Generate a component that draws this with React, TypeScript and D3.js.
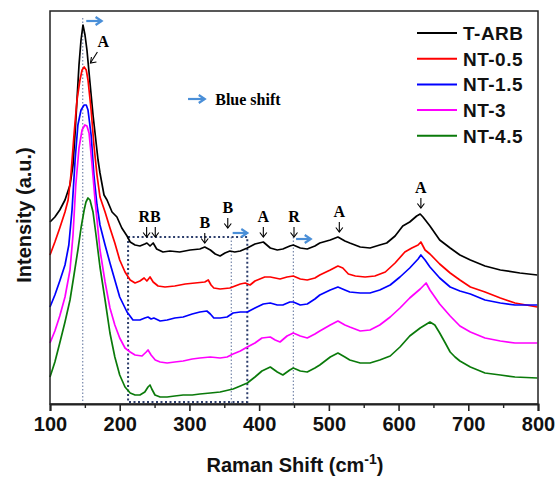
import React, { useEffect, useRef } from 'react';
import * as d3 from 'd3';

// Raman spectra, [shift (cm-1), intensity (a.u., offset)]
const tArb: [number, number][] = [
  [100, 182], [107, 187], [114, 194], [121.5, 204], [128.7, 219], [133, 239], [136, 271], [138.7, 304],
  [141.6, 339], [144.5, 364], [147.3, 379], [150.2, 369], [153, 354], [157.4, 321], [161.7, 289],
  [164.6, 271], [168.9, 244], [171.7, 231], [177.5, 209], [181.8, 204], [189, 192], [196, 187],
  [203, 176], [210.5, 168], [215, 162], [222, 159], [229, 158], [236, 160], [239, 161], [243.5, 158],
  [248, 161], [253, 155], [262, 152], [272, 153], [286, 152], [301, 154], [315, 155], [322, 157],
  [330, 154], [337, 150], [344, 148], [351, 151], [358, 153], [365, 152], [373, 153], [383, 156],
  [394, 160], [406, 162], [416, 156], [426, 154], [434, 155], [444, 158], [449, 159], [459, 156],
  [469, 155], [480, 158], [487, 161], [502, 164], [513, 167], [523, 163], [530, 161], [545, 157],
  [559, 156], [573, 159], [583, 161], [595, 168], [606, 178], [616, 182], [626, 188], [631, 190],
  [635, 187], [645, 178], [659, 164], [674, 156], [688, 149], [703, 144], [724, 138], [746, 134],
  [774, 131], [799, 129],
];

const nt05: [number, number][] = [
  [100, 149], [107, 162], [114, 176], [121.5, 192], [126, 204], [130, 229], [134.4, 269], [138.7, 304],
  [143, 324], [146, 334], [149, 337], [152, 334], [154.5, 324], [159, 294], [163, 259], [167.4, 229],
  [171.7, 207], [179, 192], [186, 176], [193, 161], [200, 144], [207.6, 132], [215, 124], [222, 121],
  [229, 123], [235, 126], [239, 123], [243.5, 127], [248, 122], [255, 118], [265, 117], [279, 118],
  [294, 120], [308, 121], [322, 122], [327, 124], [331, 119], [335, 116], [344, 115], [358, 116],
  [373, 120], [380, 121], [387, 119], [394, 123], [408, 127], [416, 127], [430, 125], [440, 127],
  [449, 128], [459, 125], [469, 124], [480, 126], [487, 129], [502, 134], [513, 138], [520, 136],
  [528, 130], [538, 128], [552, 127], [566, 128], [581, 132], [595, 141], [609, 152], [619, 156],
  [628, 159], [632, 162], [638, 154], [645, 150], [659, 140], [674, 131], [688, 124], [703, 117],
  [724, 112], [746, 106], [767, 101], [799, 97],
];

const nt15: [number, number][] = [
  [100, 97], [107, 109], [114, 123], [121.5, 139], [127, 159], [131.6, 194], [136, 244], [140, 279],
  [144.5, 294], [149, 299], [152, 299], [154.5, 294], [159, 269], [163, 229], [167.4, 199], [171.7, 179],
  [179, 159], [186, 141], [193, 124], [200, 107], [210.5, 92], [219, 84], [229, 84], [236, 86],
  [240.6, 87], [245, 85], [249, 86], [258, 83], [268, 84], [279, 86], [291, 87], [304, 90], [315, 92],
  [325, 93], [330, 90], [335, 86], [344, 86], [354, 87], [362.6, 91], [373, 92], [383, 92], [394, 96],
  [406, 100], [416, 101], [426, 99], [434, 99], [444, 102], [449, 102], [459, 99], [469, 100],
  [480, 105], [487, 109], [502, 114], [513, 117], [523, 114], [530, 112], [545, 111], [559, 111],
  [573, 114], [588, 119], [602, 127], [616, 136], [628, 145], [632, 149], [638, 144], [645, 137],
  [659, 126], [674, 117], [688, 113], [703, 110], [724, 104], [746, 101], [767, 99], [799, 99],
];

const nt3: [number, number][] = [
  [100, 61], [107, 73], [114, 88], [121.5, 107], [128.7, 134], [133, 169], [137, 219], [141.6, 256],
  [146, 274], [150, 279], [153, 278], [156, 271], [160, 242], [164.6, 204], [171.7, 154], [179, 122],
  [186, 96], [193, 79], [200, 66], [207.6, 56], [215, 52], [222, 49], [232, 48], [238, 52], [240.6, 54],
  [245, 49], [251, 44], [258, 42], [268, 41], [279, 42], [291, 43], [304, 45], [315, 46], [330, 47],
  [344, 46], [354, 47], [362.6, 50], [373, 53], [383, 57], [394, 61], [404, 66], [416, 67], [423, 64],
  [430, 62], [440, 68], [449, 71], [459, 68], [469, 66], [480, 70], [487, 73], [502, 79], [513, 83],
  [523, 79], [530, 77], [545, 73], [559, 74], [573, 79], [588, 87], [602, 96], [616, 106], [631, 115],
  [639.5, 121], [645, 114], [659, 100], [674, 88], [688, 78], [703, 72], [724, 66], [746, 63],
  [767, 61], [799, 61],
];

const nt45: [number, number][] = [
  [100, 27], [107, 42], [114, 61], [121.5, 82], [128.7, 104], [134.4, 129], [140, 154], [144.5, 176],
  [149, 194], [151.6, 202], [154.5, 206], [157.4, 204], [161.7, 192], [166, 169], [171.7, 137],
  [179, 104], [186, 71], [193, 47], [200, 29], [207.6, 17], [215, 11], [222, 9], [229, 9], [236, 12],
  [240.6, 17], [243.5, 19], [246, 15], [250.6, 9], [258, 7], [268, 7], [279, 8], [291, 9], [304, 9],
  [315, 10], [330, 11], [344, 12], [362.6, 15], [373, 18], [383, 21], [394, 27], [404, 33], [416, 37],
  [426, 32], [434, 29], [444, 34], [449, 36], [459, 33], [469, 32], [480, 36], [487, 39], [502, 47],
  [513, 51], [523, 47], [530, 44], [545, 41], [559, 41], [573, 44], [588, 48], [602, 57], [616, 68],
  [631, 76], [645, 82], [652, 79], [659, 71], [667, 61], [674, 52], [681, 47], [688, 43], [703, 37],
  [724, 31], [746, 29], [767, 27], [799, 26],
];

const seriesNames = ['T-ARB', 'NT-0.5', 'NT-1.5', 'NT-3', 'NT-4.5'];
const seriesData = [tArb, nt05, nt15, nt3, nt45];
const seriesColors = ['#000000', '#ff0000', '#0000ff', '#ff00ff', '#0a7a0a'];

const xTicks = [100, 200, 300, 400, 500, 600, 700, 800];
const xMinorTicks = [150, 250, 350, 450, 550, 650, 750];

// peak assignments: label, shift where arrow points, intensity of arrow tip
const peakLabels = [
  { label: 'A', shift: 632, tip: 196 },
  { label: 'A', shift: 515, tip: 172 },
  { label: 'R', shift: 450, tip: 167 },
  { label: 'A', shift: 406, tip: 167 },
  { label: 'B', shift: 355, tip: 176 },
  { label: 'B', shift: 322, tip: 161 },
];
const rbShifts = [238.6, 251];

const W = 556;
const H = 479;
const margin = { top: 11, left: 50, right: 18, bottom: 75 };
const innerW = W - margin.left - margin.right;
const innerH = H - margin.top - margin.bottom;

const arrowBlue = '#4a8fd8';
const guideColor = '#5b6f99';

export default function App() {
  const axisRef = useRef<SVGGElement>(null);

  const x = d3.scaleLinear().domain([100, 800]).range([0, innerW]);
  const y = d3.scaleLinear().domain([0, 393]).range([innerH, 0]);

  const line = d3.line<[number, number]>()
    .x(d => x(d[0]))
    .y(d => y(d[1]));

  useEffect(() => {
    const g = d3.select(axisRef.current);
    g.selectAll('*').remove();

    const major = g.append('g')
      .call(d3.axisBottom(x).tickValues(xTicks).tickSize(7).tickPadding(6).tickFormat(d3.format('d')));
    major.select('.domain').attr('stroke-width', 2).attr('stroke', '#222');
    major.selectAll('line').attr('stroke-width', 1.6).attr('stroke', '#222');
    major.selectAll('text')
      .attr('font-family', 'Liberation Sans, Arial, sans-serif')
      .attr('font-weight', 'bold')
      .attr('font-size', 20)
      .attr('fill', '#111');

    const minor = g.append('g')
      .call(d3.axisBottom(x).tickValues(xMinorTicks).tickSize(4).tickFormat(() => ''));
    minor.select('.domain').remove();
    minor.selectAll('line').attr('stroke-width', 1.4).attr('stroke', '#222');
  }, []);

  const blueArrow = (x1: number, x2: number, yy: number) => (
    <g stroke={arrowBlue} strokeWidth={2.2} fill="none">
      <line x1={x1} y1={yy} x2={x2} y2={yy} />
      <path d={`M${x2 - 6},${yy - 4} L${x2},${yy} L${x2 - 6},${yy + 4}`} />
    </g>
  );

  const downArrow = (xx: number, yTip: number, len = 10) => (
    <g stroke="#000" strokeWidth={1.1} fill="none">
      <line x1={xx} y1={yTip - len} x2={xx} y2={yTip} />
      <path d={`M${xx - 3.5},${yTip - 4.5} L${xx},${yTip} L${xx + 3.5},${yTip - 4.5}`} />
    </g>
  );

  const serif = 'Liberation Serif, Times New Roman, serif';
  const sans = 'Liberation Sans, Arial, sans-serif';

  const boxL = x(212);
  const boxR = x(383);
  const boxT = y(167);
  const boxB = y(2);

  return (
    <div>
      <style>{'body{margin:0}'}</style>
      <svg width={W} height={H} style={{ display: 'block', background: '#fff' }}>
        <g transform={`translate(${margin.left},${margin.top})`}>
          {/* guide lines */}
          <line x1={x(147)} x2={x(147)} y1={y(386)} y2={innerH} stroke={guideColor} strokeWidth={1} strokeDasharray="1.5,2" />
          <line x1={x(360)} x2={x(360)} y1={boxT} y2={innerH} stroke={guideColor} strokeWidth={1} strokeDasharray="1.5,2" />
          <line x1={x(449)} x2={x(449)} y1={boxT} y2={innerH} stroke={guideColor} strokeWidth={1} strokeDasharray="1.5,2" />
          <rect x={boxL} y={boxT} width={boxR - boxL} height={boxB - boxT} fill="none"
            stroke="#2c3d6b" strokeWidth={2} strokeDasharray="2,2.5" />

          {seriesData.map((s, i) => (
            <path key={seriesNames[i]} d={line(s) ?? ''} fill="none" stroke={seriesColors[i]}
              strokeWidth={1.7} strokeLinejoin="round" />
          ))}

          {/* frame */}
          <rect x={0} y={0} width={innerW} height={innerH} fill="none" stroke="#222" strokeWidth={1.5} />
          <g ref={axisRef} transform={`translate(0,${innerH})`} />

          {/* top peak annotation */}
          {blueArrow(x(152), x(174), y(383))}
          <text x={x(168)} y={y(357)} fontFamily={serif} fontWeight="bold" fontSize={16} fill="#000">A</text>
          <g stroke="#000" strokeWidth={1.1} fill="none">
            <line x1={x(168)} y1={y(352)} x2={x(158)} y2={y(341)} />
            <path d={`M${x(158) + 1},${y(341) - 6} L${x(158)},${y(341)} L${x(158) + 6},${y(341) - 1}`} />
          </g>

          {/* blue shift legend */}
          {blueArrow(x(298), x(322), y(305))}
          <text x={x(337)} y={y(299)} fontFamily={serif} fontWeight="bold" fontSize={16} fill="#000">Blue shift</text>

          {/* peak labels */}
          {peakLabels.map((p, i) => (
            <g key={i}>
              {downArrow(x(p.shift), y(p.tip))}
              <text x={x(p.shift)} y={y(p.tip) - 15} textAnchor="middle" fontFamily={serif}
                fontWeight="bold" fontSize={16} fill="#000">{p.label}</text>
            </g>
          ))}
          {rbShifts.map((s, i) => <g key={i}>{downArrow(x(s), y(167))}</g>)}
          <text x={x(243)} y={y(167) - 15} textAnchor="middle" fontFamily={serif} fontWeight="bold"
            fontSize={16} fill="#000">RB</text>
          {blueArrow(x(362), x(383), y(171))}
          {blueArrow(x(453), x(474), y(165))}

          {/* legend */}
          {seriesNames.map((n, i) => (
            <g key={n} transform={`translate(${innerW - 121},${22 + i * 25.7})`}>
              <line x1={0} x2={40} y1={0} y2={0} stroke={seriesColors[i]} strokeWidth={2} />
              <text x={46} y={7} fontFamily={sans} fontWeight="bold" fontSize={19}
                letterSpacing={0.5} fill="#111">{n}</text>
            </g>
          ))}
        </g>

        {/* axis titles */}
        <text x={margin.left + innerW / 2 + 1} y={472} textAnchor="middle" fontFamily={sans}
          fontWeight="bold" fontSize={20} fill="#111">
          Raman Shift (cm<tspan dy={-8} fontSize={14}>-1</tspan><tspan dy={8}>)</tspan>
        </text>
        <text transform="translate(31,215) rotate(-90)" textAnchor="middle" fontFamily={sans}
          fontWeight="bold" fontSize={20} fill="#111">Intensity (a.u.)</text>
      </svg>
    </div>
  );
}
